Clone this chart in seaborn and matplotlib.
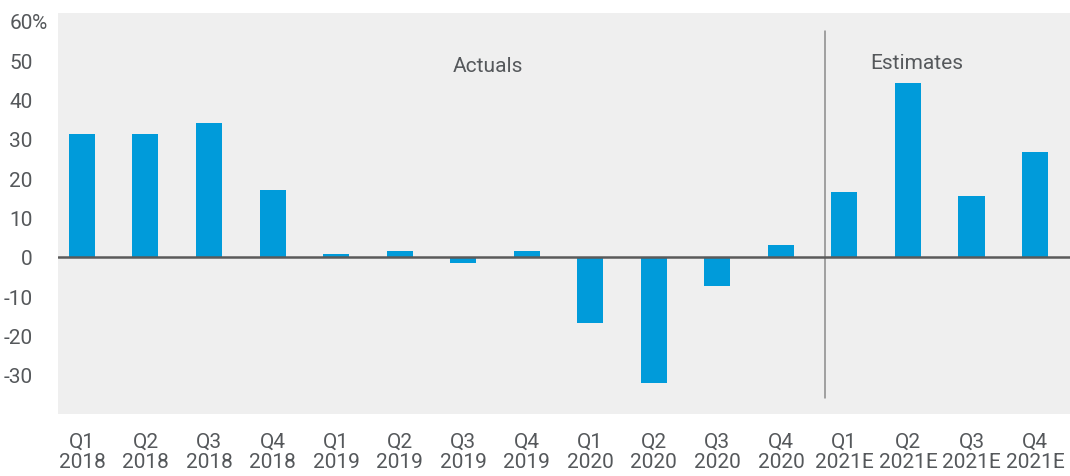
import matplotlib
matplotlib.use("Agg")
import matplotlib.pyplot as plt
import seaborn as sns
import pandas as pd

# Growth by quarter (%)
quarters = ["Q1\n2018", "Q2\n2018", "Q3\n2018", "Q4\n2018",
            "Q1\n2019", "Q2\n2019", "Q3\n2019", "Q4\n2019",
            "Q1\n2020", "Q2\n2020", "Q3\n2020", "Q4\n2020",
            "Q1\n2021E", "Q2\n2021E", "Q3\n2021E", "Q4\n2021E"]
growth = [31.1, 31.1, 34.1, 17.0,
          0.8, 1.4, -1.7, 1.4,
          -16.9, -32.2, -7.5, 2.9,
          16.5, 44.1, 15.3, 26.6]
y_ticks = [-30, -20, -10, 0, 10, 20, 30, 40, 50, 60]
y_tick_labels = ["-30", "-20", "-10", "0", "10", "20", "30", "40", "50", "60"]
unit = "%"

TEXT = "#55585b"
BAR = "#009bda"
BG = "#efefef"
FS = 15


def main():
    sns.set_style("white")
    plt.rcParams["font.family"] = ["Roboto", "DejaVu Sans"]

    df = pd.DataFrame({"quarter": quarters, "growth": growth})

    fig = plt.figure(figsize=(10.7, 4.77), dpi=100)
    ax = fig.add_axes([0.054, 0.130, 0.946, 0.841])
    ax.set_facecolor(BG)

    sns.barplot(data=df, x="quarter", y="growth", color=BAR, width=0.41,
                saturation=1, edgecolor="none", ax=ax)

    ax.axhline(0, color="#5a5a5a", linewidth=1.8, zorder=3)
    # separator between actuals and estimates
    ax.plot([11.7, 11.7], [57.4, -36], color="#8a8a8a", linewidth=1.1)

    ax.text(6.39, 48.6, "Actuals", ha="center", va="center",
            fontsize=FS, color=TEXT)
    ax.text(13.14, 49.3, "Estimates", ha="center", va="center",
            fontsize=FS, color=TEXT)

    ax.set_xlim(-0.38, 15.55)
    ax.set_ylim(-40, 62)
    ax.set_yticks(y_ticks)
    ax.set_yticklabels(y_tick_labels)
    ax.set_xlabel("")
    ax.set_ylabel("")
    ax.tick_params(axis="both", length=0, labelsize=FS, colors=TEXT)
    ax.tick_params(axis="x", pad=13)
    ax.tick_params(axis="y", pad=18)
    for spine in ax.spines.values():
        spine.set_visible(False)
    for lbl in ax.get_xticklabels():
        lbl.set_linespacing(1.05)

    # percent sign hangs to the right of the top tick label
    ax.annotate(unit, xy=(0, y_ticks[-1]), xycoords=ax.get_yaxis_transform(),
                xytext=(-18.6, 0), textcoords="offset points",
                ha="left", va="center_baseline", fontsize=FS, color=TEXT,
                annotation_clip=False)

    fig.savefig("out.png", dpi=100, facecolor="white")
    plt.close(fig)


if __name__ == "__main__":
    main()
